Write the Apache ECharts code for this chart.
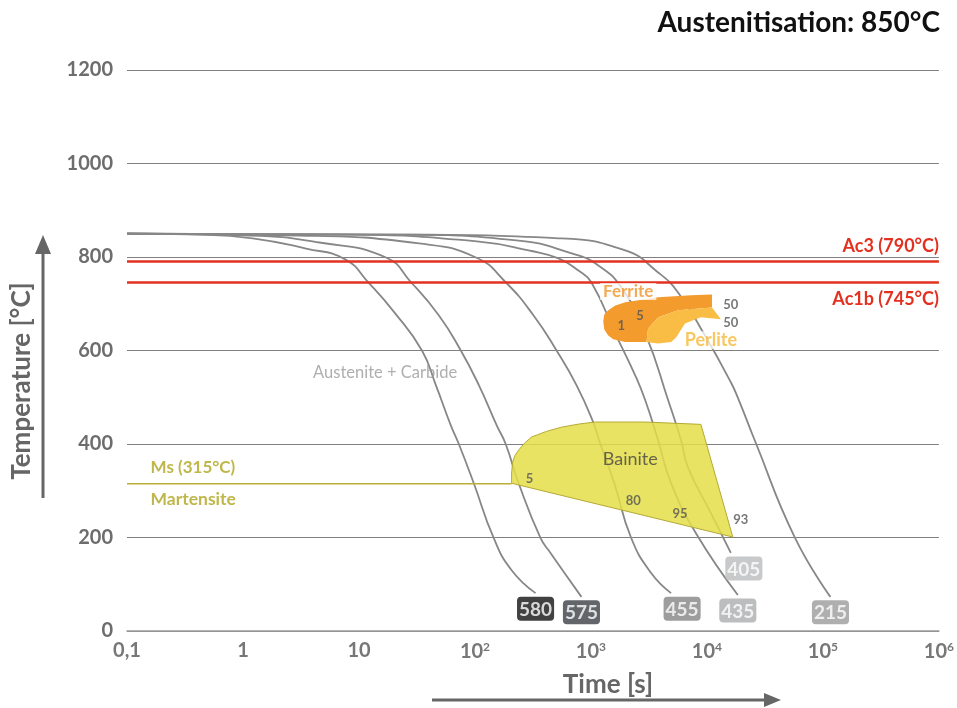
<!DOCTYPE html>
<html><head><meta charset="utf-8">
<script src="https://cdn.jsdelivr.net/npm/echarts@6/dist/echarts.min.js"></script>
<style>html,body{margin:0;padding:0;background:#fff}#c{width:957px;height:708px}</style>
</head><body><div id="c"></div>
<script>
// ---------- data (time in s, temperature in °C) ----------
const xTickBase = ['0,1','1','10','10','10','10','10','10'];
const xTickExp  = ['','','','2','3','4','5','6'];
const yTicks = [0,200,400,600,800,1000,1200];

const curve580 = [[0.1,850],[0.42,848],[1.21,840],[3.5,818],[7.6,795],[12.2,744],[20.1,682],[34.9,600],[46,526],[61.9,440],[72.6,400],[97.7,316],[145,199],[207,130],[333,81]];
const curve575 = [[0.1,850],[1.14,846],[4.55,831],[17.1,799],[28.1,746],[48.9,675],[75.5,600],[108,526],[154,440],[184,400],[238,316],[367,199],[448,167],[828,73]];
const curve455 = [[0.1,850],[3.06,846],[32.9,829],[102,799],[184,746],[320,675],[505,600],[750,526],[1028,451],[1205,400],[1589,316],[2223,199],[3303,124],[4909,81]];
const curve435 = [[0.1,850],[8.24,848],[108,833],[290,814],[525,797],[780,771],[1007,746],[1652,632],[2406,547],[2933,494],[3793,408],[4909,316],[8040,209],[18460,77]];
const curve405 = [[0.1,850],[22.1,848],[238,835],[640,810],[1158,782],[1897,729],[2993,632],[4623,494],[5981,408],[6870,350],[10820,252],[16070,167]];
const curve215 = [[0.1,850],[22.1,848],[525,840],[1977,814],[3793,767],[5636,724],[9616,632],[16070,532],[18830,494],[25830,408],[57020,201],[116100,73]];

const hardness = [580,575,455,435,405,215];

const bainite = [[207,316],[207,338],[211,361],[222,376],[238,387],[268,402],[308,415],[414,427],[557,436],[800,443],[1092,447],[2933,447],[8872,442],[16710,201]];
const ferrite = [[1276,662],[1303,677],[1409,686],[1622,696],[1976,703],[3796,714],[7290,718],[11050,720],[11050,692],[5640,686],[3796,671],[3112,647],[2992,618],[1976,618],[1556,624],[1409,632],[1303,645]];
const perlite = [[2992,618],[3112,647],[3796,671],[5640,686],[11050,692],[13190,667],[8870,671],[6470,658],[5420,628],[4910,618],[3796,615]];

const Ac3 = 790, Ac1b = 745, Ms = 315;
const msEnd = 207;

// ---------- chart ----------
const FONT = 'Lato, "Open Sans", "DejaVu Sans", sans-serif';
const curves = [curve580, curve575, curve455, curve435, curve405, curve215];
const boxColors = ['#111111','#3b3e43','#858585','#aaacae','#babcbe','#9b9b9b'];
const boxOffsets = [[0,0],[0,0],[11,0],[0,0],[13,0],[0,0]];

const chart = echarts.init(document.getElementById('c'));

function polygonSeries(pts, fill, stroke, z) {
  return {
    type: 'custom', coordinateSystem: 'cartesian2d', z: z, silent: true, clip: false,
    data: [pts[0]],
    encode: {x: 0, y: 1},
    renderItem: function (params, api) {
      const points = pts.map(p => api.coord(p));
      return {type: 'polygon', shape: {points: points},
        style: {fill: fill, stroke: stroke, lineWidth: stroke ? 1 : 0}};
    }
  };
}

const curveSeries = curves.map(c => ({
  type: 'line', data: c, symbol: 'none', smooth: 0.5,
  lineStyle: {color: '#878787', width: 1.8}, z: 2, silent: true
}));

const hardnessSeries = {
  type: 'scatter', z: 12, symbolSize: 1, silent: true,
  itemStyle: {color: 'rgba(0,0,0,0)'},
  data: curves.map((c, i) => ({
    value: c[c.length - 1],
    label: {
      show: true, position: 'bottom', distance: 3, offset: boxOffsets[i],
      formatter: String(hardness[i]), color: '#fff', fontSize: 19, fontWeight: 'bold',
      fontFamily: FONT, backgroundColor: boxColors[i], borderRadius: 4,
      padding: [3, 2, 1, 2], lineHeight: 20
    }
  }))
};

const grayNum = {color: '#555', fontSize: 13, fontWeight: 'bold'};
const annotations = [
  {v: [16.8, 553], text: 'Austenite + Carbide', s: {color: '#9a9a9a', fontSize: 16.5}},
  {v: [0.158, 350], text: 'Ms (315°C)', s: {color: '#b0a51e', fontSize: 17, fontWeight: 'bold'}, pos: 'right'},
  {v: [0.158, 282], text: 'Martensite', s: {color: '#b0a51e', fontSize: 17.5, fontWeight: 'bold'}, pos: 'right'},
  {v: [2180, 368], text: 'Bainite', s: {color: '#444', fontSize: 18}},
  {v: [296, 325], text: '5', s: grayNum},
  {v: [2312, 278], text: '80', s: grayNum},
  {v: [5866, 250], text: '95', s: grayNum},
  {v: [19590, 237], text: '93', s: grayNum},
  {v: [2094, 726], text: 'Ferrite', s: {color: '#f0952a', fontSize: 17, fontWeight: 'bold', backgroundColor: 'rgba(255,255,255,0.92)', padding: [0, 3]}},
  {v: [10820, 622], text: 'Perlite', s: {color: '#f8b93a', fontSize: 18, fontWeight: 'bold', backgroundColor: 'rgba(255,255,255,0.92)', padding: [0, 3]}},
  {v: [16070, 697], text: '50', s: grayNum},
  {v: [16070, 660], text: '50', s: grayNum},
  {v: [1824, 652], text: '1', s: grayNum},
  {v: [2655, 675], text: '5', s: grayNum}
];
const annotationSeries = {
  type: 'scatter', z: 11, symbolSize: 1, silent: true,
  itemStyle: {color: 'rgba(0,0,0,0)'},
  data: annotations.map(a => ({
    value: a.v,
    label: Object.assign({show: true, position: a.pos || 'inside', distance: 0,
      formatter: a.text, fontFamily: FONT}, a.s)
  }))
};

const msSeries = {
  type: 'line', data: [[0.1, Ms], [msEnd, Ms]], symbol: 'none', z: 3, silent: true,
  lineStyle: {color: '#b9ae3c', width: 1.5},
  markLine: {
    silent: true, symbol: 'none', animation: false,
    lineStyle: {color: '#e3301f', width: 2.5, type: 'solid'},
    data: [
      {yAxis: Ac3, label: {show: true, position: 'insideEndTop', formatter: 'Ac3 (790°C)', color: '#e3301f', fontSize: 18, fontWeight: 'bold', fontFamily: FONT, distance: [0, 6]}},
      {yAxis: Ac1b, label: {show: true, position: 'insideEndBottom', formatter: 'Ac1b (745°C)', color: '#e3301f', fontSize: 18, fontWeight: 'bold', fontFamily: FONT, distance: [0, 7]}}
    ]
  }
};

const option = {
  animation: false,
  backgroundColor: '#fff',
  title: {text: 'Austenitisation: 850°C', right: 12, top: 4,
    textStyle: {fontSize: 28, fontWeight: 'bold', color: '#111', fontFamily: FONT}},
  grid: {left: 127, right: 15, top: 70, bottom: 77},
  xAxis: {
    type: 'log', logBase: 10, min: 0.1, max: 1e6, splitNumber: 7,
    axisLine: {lineStyle: {color: '#9a9a9a', width: 1.5}},
    axisTick: {show: false}, splitLine: {show: false},
    axisLabel: {
      margin: 10,
      formatter: function (v) {
        const e = Math.round(Math.log10(v)) + 1;
        return xTickExp[e] ? '{b|' + xTickBase[e] + '}{s|' + xTickExp[e] + '}' : '{b|' + xTickBase[e] + '}';
      },
      rich: {
        b: {fontSize: 20, fontWeight: 'bold', color: '#777', fontFamily: FONT},
        s: {fontSize: 12, fontWeight: 'bold', color: '#777', fontFamily: FONT, verticalAlign: 'top', padding: [0, 0, 9, 0]}
      }
    }
  },
  yAxis: {
    type: 'value', min: yTicks[0], max: yTicks[yTicks.length - 1], interval: 200,
    axisLine: {show: false}, axisTick: {show: false},
    splitLine: {lineStyle: {color: '#808080', width: 1.2}},
    axisLabel: {fontSize: 20, fontWeight: 'bold', color: '#6d6d6d', margin: 14, fontFamily: FONT,
      formatter: function (v) { return String(v); }}
  },
  graphic: [
    {type: 'text', x: 22, y: 381, rotation: Math.PI / 2,
      style: {text: 'Temperature [°C]', fontSize: 26, fontWeight: 'bold', fill: '#666', fontFamily: FONT,
        textAlign: 'center', textVerticalAlign: 'middle', align: 'center', verticalAlign: 'middle'}},
    {type: 'line', shape: {x1: 43, y1: 498, x2: 43, y2: 250}, style: {stroke: '#666', lineWidth: 3}},
    {type: 'polygon', shape: {points: [[43, 235], [35, 254], [51, 254]]}, style: {fill: '#666'}},
    {type: 'text', x: 608, y: 685,
      style: {text: 'Time [s]', fontSize: 26, fontWeight: 'bold', fill: '#666', fontFamily: FONT,
        textAlign: 'center', textVerticalAlign: 'middle', align: 'center', verticalAlign: 'middle'}},
    {type: 'line', shape: {x1: 432, y1: 700, x2: 766, y2: 700}, style: {stroke: '#666', lineWidth: 3}},
    {type: 'polygon', shape: {points: [[781, 700], [764, 693], [764, 707]]}, style: {fill: '#666'}}
  ],
  series: [
    ...curveSeries,
    msSeries,
    polygonSeries(bainite, 'rgba(228,222,72,0.85)', '#b5aa35', 5),
    polygonSeries(ferrite, '#f39b2d', null, 6),
    polygonSeries(perlite, '#f9bd45', null, 7),
    annotationSeries,
    hardnessSeries
  ]
};
chart.setOption(option);
</script>
</body></html>
